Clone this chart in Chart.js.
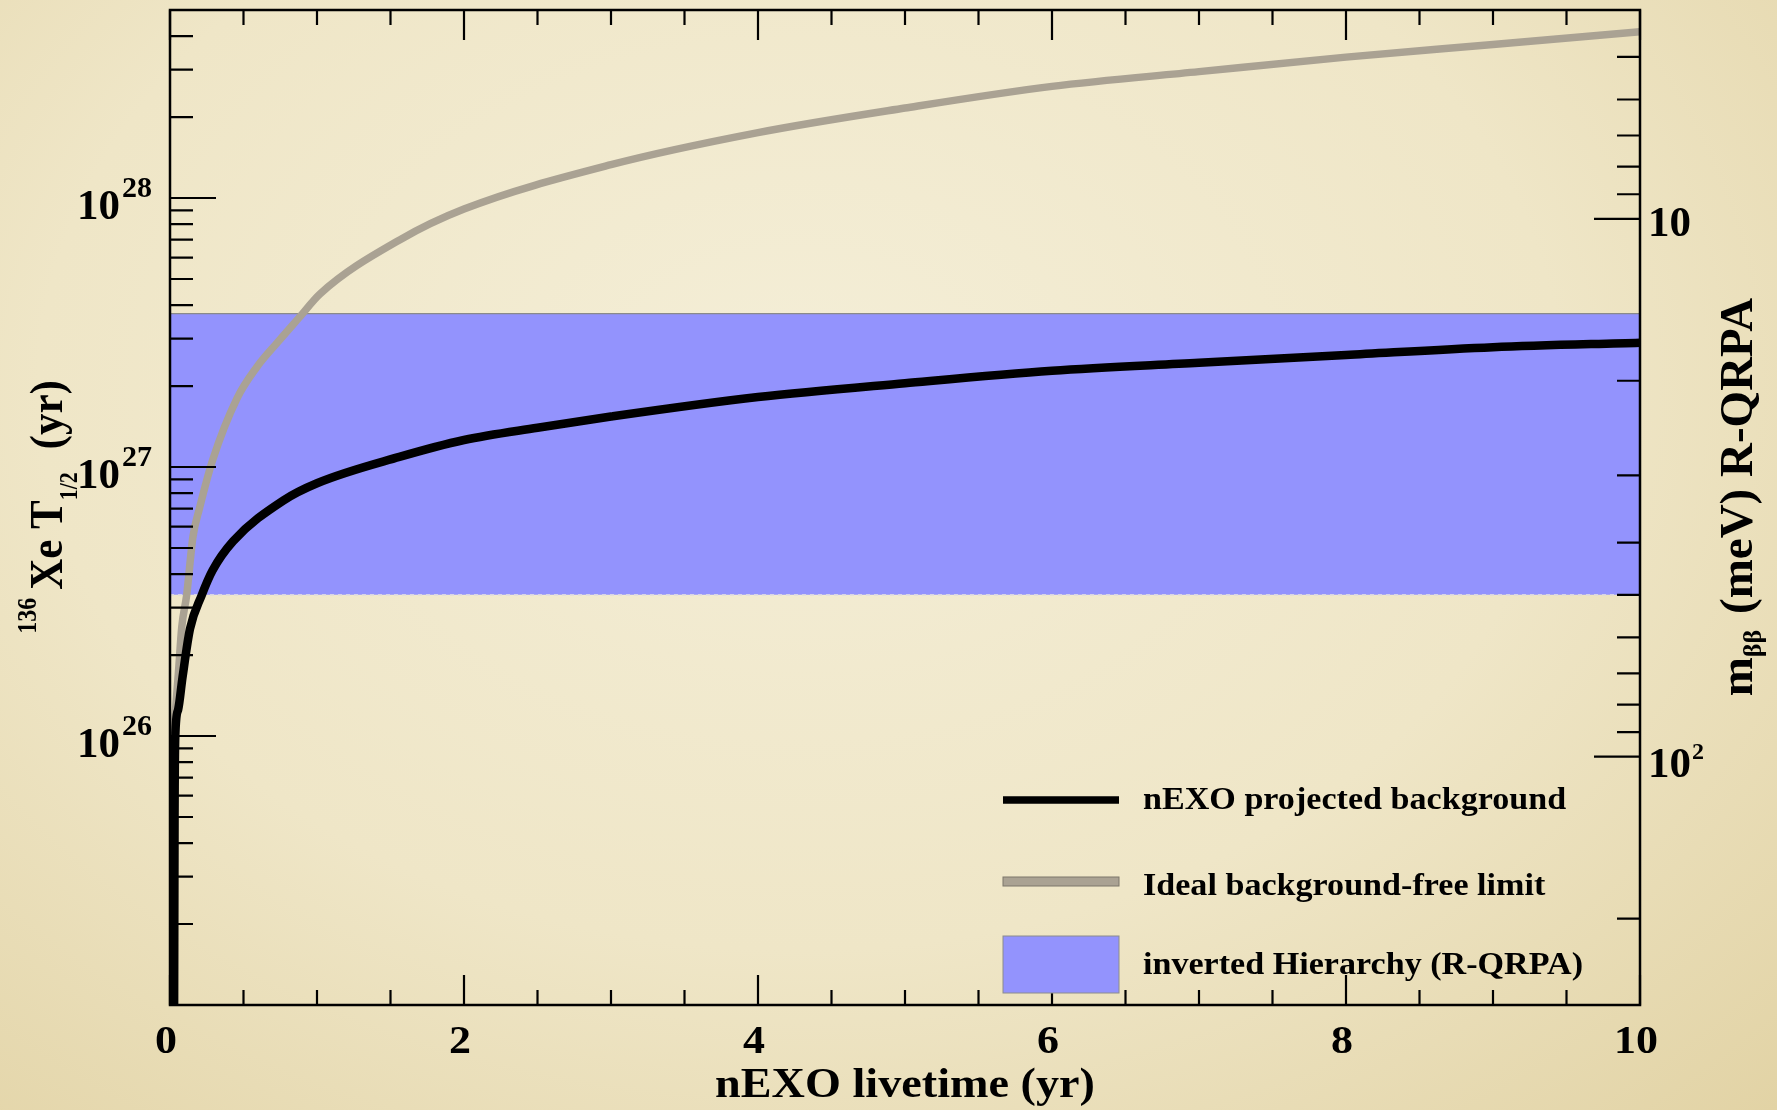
<!DOCTYPE html>
<html>
<head>
<meta charset="utf-8">
<script src="https://cdn.jsdelivr.net/npm/chart.js@4.4.1/dist/chart.umd.min.js"></script>
<style>
  html, body { margin: 0; padding: 0; }
  body {
    width: 1777px; height: 1110px; overflow: hidden;
    background: radial-gradient(ellipse at 45% 35%, #f4eed7 0%, #efe6c7 55%, #e2d3a5 100%);
  }
  #wrap { position: absolute; left: 0; top: 0; width: 1777px; height: 1110px; }
</style>
</head>
<body>
<div id="wrap"><canvas id="chart" width="1777" height="1110"></canvas></div>
<script>
// nEXO projected background (black curve)
const livetimeBg = [0.028, 0.031, 0.036, 0.055, 0.085, 0.136, 0.215, 0.29, 0.43, 0.77, 1.0, 1.56, 2.0, 2.5, 3.0, 4.0, 5.0, 6.0, 7.0, 8.0, 9.0, 10.0];
const halfLifeBg = [1.0e25, 5.0e25, 1.0e26, 1.25e26, 1.65e26, 2.5e26, 3.33e26, 4.13e26, 5.3e26, 7.5e26, 8.7e26, 1.09e27, 1.26e27, 1.40e27, 1.54e27, 1.82e27, 2.05e27, 2.28e27, 2.44e27, 2.61e27, 2.79e27, 2.90e27];

// ideal background-free limit (grey curve)
const livetimeFree = [0.023, 0.034, 0.057, 0.08, 0.113, 0.156, 0.2, 0.29, 0.456, 0.59, 0.73, 0.88, 1.02, 1.565, 2.0, 3.0, 4.0, 5.0, 6.0, 7.0, 8.0, 9.0, 10.0];
const halfLifeFree = [1.02e26, 1.18e26, 1.71e26, 2.54e26, 3.33e26, 5.5e26, 7.0e26, 1.06e27, 1.8e27, 2.35e27, 2.9e27, 3.6e27, 4.4e27, 7.0e27, 9.1e27, 1.33e28, 1.75e28, 2.16e28, 2.6e28, 2.95e28, 3.34e28, 3.72e28, 4.15e28];

// inverted hierarchy band, m_bb in meV (right axis)
const bandX = [0, 10];
const bandTop = [15, 15];
const bandBottom = [50, 50];

// axis ticks
const xLabels = [0, 2, 4, 6, 8, 10];
const leftExponents = [26, 27, 28];
const rightLabels = ['10', '10\u00b2'];
const rightLabelValues = [10, 100];
const legendLabels = ['nEXO projected background', 'Ideal background-free limit', 'inverted Hierarchy (R-QRPA)'];

const FONT = '"Liberation Serif", "Times New Roman", serif';
const BAND_COLOR = '#9393fd';
const GREY = '#aaa293';

function pts(xs, ys) {
    return xs.map((x, i) => ({ x: x, y: ys[i] }));
}

function text(ctx, s, x, y, size, align, sx) {
    ctx.save();
    ctx.font = 'bold ' + size + 'px ' + FONT;
    ctx.textAlign = align;
    ctx.textBaseline = 'alphabetic';
    ctx.translate(x, y);
    ctx.scale(sx || 1, 1);
    ctx.fillText(s, 0, 0);
    ctx.restore();
}

// rotated (-90deg) text made of pieces with sub/superscripts
function rotatedRich(ctx, parts, baseX, centerY, sy) {
    ctx.save();
    ctx.translate(baseX, centerY);
    ctx.rotate(-Math.PI / 2);
    ctx.scale(1, sy || 1);
    ctx.textBaseline = 'alphabetic';
    ctx.textAlign = 'left';
    let total = 0;
    parts.forEach(p => {
        ctx.font = 'bold ' + p.size + 'px ' + FONT;
        p.w = ctx.measureText(p.t).width + (p.gap || 0);
        total += p.w;
    });
    let x = -total / 2;
    parts.forEach(p => {
        ctx.font = 'bold ' + p.size + 'px ' + FONT;
        ctx.fillText(p.t, x, p.dy || 0);
        x += p.w;
    });
    ctx.restore();
}

const rootFrame = {
    id: 'rootFrame',
    afterDatasetsDraw(chart) {
        const ctx = chart.ctx;
        const a = chart.chartArea;
        const xs = chart.scales.x, yl = chart.scales.y, yr = chart.scales.y2;
        ctx.save();
        ctx.strokeStyle = '#000';
        ctx.fillStyle = '#000';
        ctx.lineWidth = 2.5;
        ctx.strokeRect(a.left, a.top, a.right - a.left, a.bottom - a.top);

        ctx.lineWidth = 2.2;
        ctx.beginPath();
        // x ticks, bottom and top
        for (let k = 0; k <= 20; k++) {
            const v = k * 0.5;
            const px = xs.getPixelForValue(v);
            const len = (k % 4 === 0) ? 30 : 15;
            ctx.moveTo(px, a.bottom); ctx.lineTo(px, a.bottom - len);
            ctx.moveTo(px, a.top); ctx.lineTo(px, a.top + len);
        }
        // left log ticks
        for (let e = 25; e <= 28; e++) {
            for (let m = 1; m <= 9; m++) {
                const v = m * Math.pow(10, e);
                if (v < yl.min || v > yl.max) continue;
                const py = yl.getPixelForValue(v);
                const len = m === 1 ? 46 : 23;
                ctx.moveTo(a.left, py); ctx.lineTo(a.left + len, py);
            }
        }
        // right log ticks (m_bb)
        for (let e = 0; e <= 2; e++) {
            for (let m = 1; m <= 9; m++) {
                const v = m * Math.pow(10, e);
                if (v < yr.min || v > yr.max) continue;
                const py = yr.getPixelForValue(v);
                const len = m === 1 ? 46 : 23;
                ctx.moveTo(a.right, py); ctx.lineTo(a.right - len, py);
            }
        }
        ctx.stroke();

        // bottom labels
        xLabels.forEach(v => {
            text(ctx, String(v), xs.getPixelForValue(v) - 4, a.bottom + 48, 40, 'center', 1.1);
        });
        // left labels 10^n
        leftExponents.forEach(e => {
            const py = yl.getPixelForValue(Math.pow(10, e));
            ctx.font = 'bold 30px ' + FONT;
            const ew = ctx.measureText(String(e)).width;
            text(ctx, String(e), a.left - 18, py - 1, 30, 'right', 1);
            text(ctx, '10', a.left - 20 - ew, py + 21, 43, 'right', 1);
        });
        // right labels
        rightLabels.forEach((s, i) => {
            const py = yr.getPixelForValue(rightLabelValues[i]);
            if (s === '10') {
                text(ctx, '10', a.right + 8, py + 17, 43, 'left', 1);
            } else {
                text(ctx, '10', a.right + 8, py + 20, 43, 'left', 1);
                text(ctx, '2', a.right + 52, py + 2, 24, 'left', 1);
            }
        });

        // axis titles
        text(ctx, 'nEXO livetime (yr)', (a.left + a.right) / 2, 1097, 42, 'center', 1.1);
        rotatedRich(ctx, [
            { t: '136', size: 24, dy: -24, gap: 8 },
            { t: 'Xe T', size: 43 },
            { t: '1/2', size: 22, dy: 14, gap: 12 },
            { t: ' (yr)', size: 43 }
        ], 62, 507, 1.1);
        rotatedRich(ctx, [
            { t: 'm', size: 47 },
            { t: '\u03b2\u03b2', size: 26, dy: 9, gap: 4 },
            { t: ' (meV) R-QRPA', size: 47 }
        ], 1752, 497, 1.0);

        // legend
        const lx0 = 1003, lx1 = 1119, tx = 1143;
        ctx.lineWidth = 7.5;
        ctx.strokeStyle = '#000';
        ctx.beginPath(); ctx.moveTo(lx0, 800); ctx.lineTo(lx1, 800); ctx.stroke();
        ctx.fillStyle = GREY;
        ctx.fillRect(lx0, 877, lx1 - lx0, 9);
        ctx.lineWidth = 1;
        ctx.strokeStyle = '#7d776a';
        ctx.strokeRect(lx0, 877, lx1 - lx0, 9);
        ctx.fillStyle = BAND_COLOR;
        ctx.fillRect(lx0, 936, lx1 - lx0, 57);
        ctx.strokeStyle = '#8c8c8c';
        ctx.strokeRect(lx0, 936, lx1 - lx0, 57);
        ctx.fillStyle = '#000';
        text(ctx, legendLabels[0], tx, 809, 31, 'left', 1.1);
        text(ctx, legendLabels[1], tx, 895, 31, 'left', 1.1);
        text(ctx, legendLabels[2], tx, 974, 31, 'left', 1.1);
        ctx.restore();
    }
};

new Chart(document.getElementById('chart'), {
    type: 'line',
    data: {
        datasets: [
            {
                label: legendLabels[0],
                data: pts(livetimeBg, halfLifeBg),
                yAxisID: 'y',
                borderColor: '#000',
                borderWidth: 8.5,
                pointRadius: 0,
                cubicInterpolationMode: 'monotone',
                order: 0
            },
            {
                label: legendLabels[1],
                data: pts(livetimeFree, halfLifeFree),
                yAxisID: 'y',
                borderColor: GREY,
                borderWidth: 7.5,
                pointRadius: 0,
                cubicInterpolationMode: 'monotone',
                order: 1
            },
            {
                label: 'band top',
                data: pts(bandX, bandTop),
                yAxisID: 'y2',
                borderColor: '#8a8a8a',
                borderWidth: 1.2,
                pointRadius: 0,
                fill: false,
                order: 2
            },
            {
                label: legendLabels[2],
                data: pts(bandX, bandBottom),
                yAxisID: 'y2',
                borderColor: '#d9d6e6',
                borderDash: [4, 4],
                borderWidth: 1.5,
                pointRadius: 0,
                fill: '-1',
                backgroundColor: BAND_COLOR,
                order: 3
            }
        ]
    },
    options: {
        responsive: false,
        animation: false,
        devicePixelRatio: 1,
        layout: { padding: { left: 170, right: 137, top: 10, bottom: 105 } },
        plugins: { legend: { display: false }, tooltip: { enabled: false } },
        scales: {
            x: { type: 'linear', min: 0, max: 10, bounds: 'data', display: false },
            y: { type: 'logarithmic', min: 1e25, max: 5e28, bounds: 'data', display: false },
            y2: { type: 'logarithmic', min: 4.09, max: 289.5, reverse: true, bounds: 'data', display: false }
        }
    },
    plugins: [rootFrame]
});
</script>
</body>
</html>
